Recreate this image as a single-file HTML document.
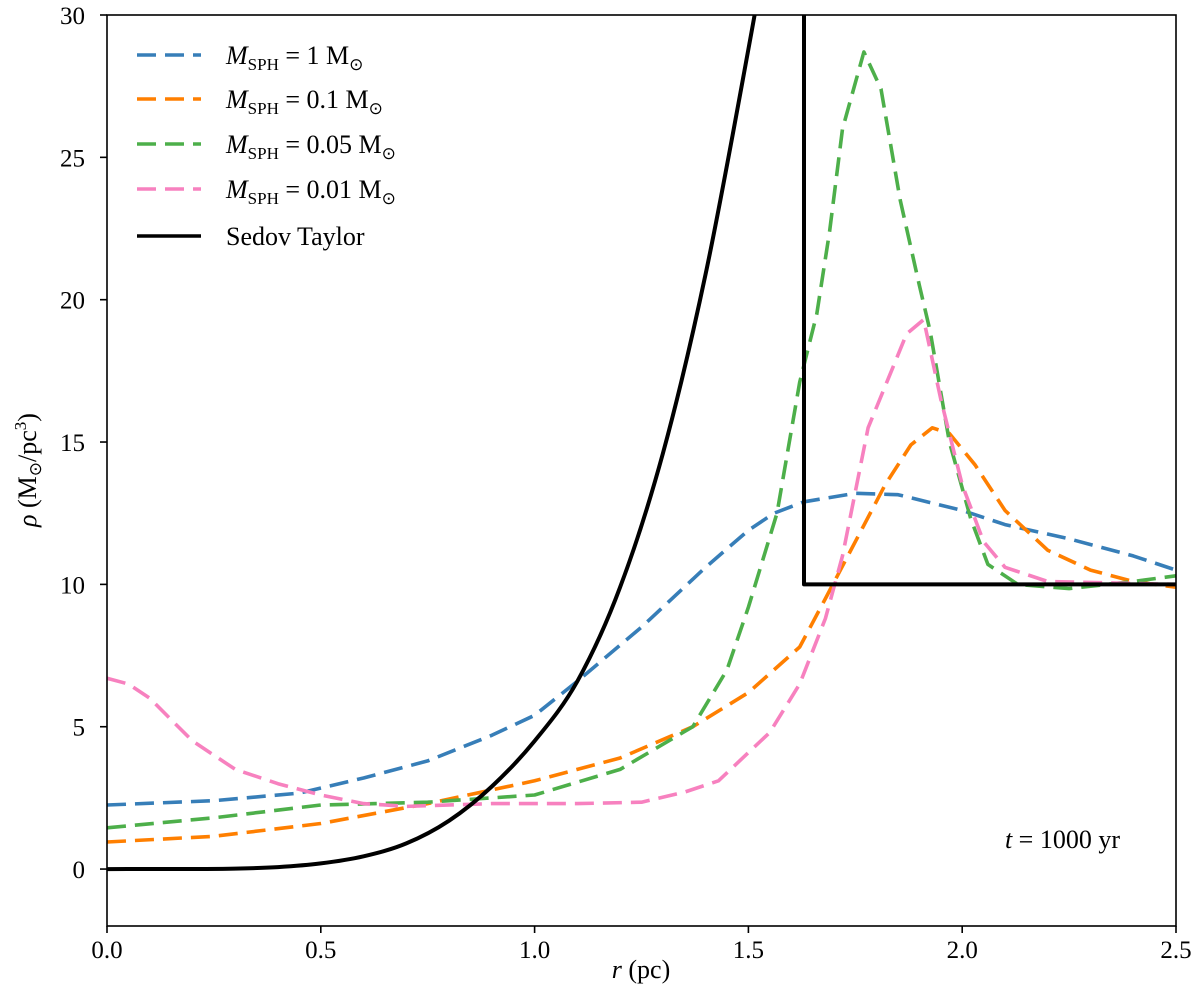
<!DOCTYPE html>
<html><head><meta charset="utf-8"><style>
html,body{margin:0;padding:0;background:#fff;}
svg{display:block;font-family:"Liberation Serif",serif;}
</style></head><body>
<svg id="chart" width="1200" height="997" viewBox="0 0 1200 997">
<defs><clipPath id="clip"><rect x="107" y="15" width="1069" height="911"/></clipPath></defs>
<g id="marks" clip-path="url(#clip)"></g>
<rect x="107" y="15" width="1069" height="911" fill="none" stroke="#000" stroke-width="1.6"/>
<g id="xt"></g>
<g id="yt"></g>
<text x="641" y="978" font-size="26" text-anchor="middle"><tspan font-style="italic">r</tspan> (pc)</text>
<text transform="translate(36,470) rotate(-90)" font-size="26" text-anchor="middle"><tspan font-style="italic">ρ</tspan> (M<tspan font-size="17" dy="5">⊙</tspan><tspan dy="-5">/pc</tspan><tspan font-size="17" dy="-10">3</tspan><tspan dy="10">)</tspan></text>
<text x="1120" y="848" font-size="26" text-anchor="end"><tspan font-style="italic">t</tspan> = 1000 yr</text>
<g id="legend"></g>
</svg>
<script>
const xmin=0,xmax=2.5,ymin=-2,ymax=30;
const X=v=>107+(v-xmin)/(xmax-xmin)*1069;
const Y=v=>926-(v-ymin)/(ymax-ymin)*911;
const xTicks=[0,0.5,1.0,1.5,2.0,2.5];
const xTickLabels=["0.0","0.5","1.0","1.5","2.0","2.5"];
const yTicks=[0,5,10,15,20,25,30];
const yTickLabels=["0","5","10","15","20","25","30"];

const blueR=[0,0.25,0.45,0.6,0.75,0.9,1.0,1.1,1.25,1.4,1.5,1.56,1.63,1.75,1.85,2.0,2.1,2.25,2.4,2.5];
const blueV=[2.25,2.4,2.67,3.2,3.8,4.7,5.4,6.6,8.5,10.6,11.9,12.5,12.9,13.2,13.15,12.6,12.1,11.6,11.0,10.5];
const orangeR=[0,0.25,0.5,0.75,1.0,1.2,1.37,1.5,1.62,1.68,1.75,1.82,1.88,1.93,1.97,2.03,2.1,2.2,2.3,2.4,2.5];
const orangeV=[0.95,1.15,1.6,2.3,3.1,3.9,5.0,6.2,7.8,9.5,11.5,13.5,14.9,15.5,15.3,14.2,12.6,11.2,10.5,10.1,9.9];
const greenR=[0,0.25,0.5,0.75,1.0,1.2,1.37,1.45,1.5,1.567,1.62,1.66,1.69,1.72,1.77,1.81,1.855,1.9,1.925,1.97,2.02,2.06,2.13,2.25,2.4,2.5];
const greenV=[1.45,1.8,2.25,2.35,2.6,3.5,5.0,7.0,9.2,12.5,17.1,19.5,22.4,26.0,28.7,27.4,23.5,20.5,18.9,15.0,12.3,10.7,10.0,9.85,10.1,10.3];
const pinkR=[0,0.05,0.1,0.2,0.3,0.4,0.5,0.6,0.7,0.9,1.1,1.25,1.35,1.43,1.55,1.62,1.68,1.72,1.78,1.87,1.91,1.95,2.0,2.05,2.1,2.2,2.5];
const pinkV=[6.7,6.5,6.0,4.5,3.5,3.0,2.6,2.3,2.2,2.3,2.3,2.35,2.7,3.1,4.8,6.5,8.8,11.0,15.5,18.8,19.3,16.5,13.5,11.5,10.6,10.1,10.0];
const sedovR=[0,0.2,0.3,0.4,0.5,0.6,0.7,0.8,0.9,1.0,1.1,1.2,1.3,1.4,1.5,1.56,1.63];
const sedovV=[0,0.003,0.015,0.07,0.2,0.45,0.9,1.7,2.9,4.5,6.6,9.9,14.6,20.9,28.8,34,41];
const shockR=[1.63,1.63,2.5];
const shockV=[41,10,10];

const NS="http://www.w3.org/2000/svg";
function mk(tag,attrs,parent){const e=document.createElementNS(NS,tag);for(const k in attrs)e.setAttribute(k,attrs[k]);parent.appendChild(e);return e;}
const marks=document.getElementById('marks');
function line(R,V,color,dash,name,w){
  const d=R.map((r,i)=>(i?'L':'M')+X(r).toFixed(1)+' '+Y(V[i]).toFixed(1)).join(' ');
  const p=mk('path',{d:d,fill:'none',stroke:color,'stroke-width':w||3.6,'stroke-dasharray':dash||'none','stroke-linejoin':'round'},marks);
  
  
}
function smooth(R,V,color,name,w){
  const P=R.map((r,i)=>[X(r),Y(V[i])]);
  let d='M'+P[0][0]+' '+P[0][1];
  for(let i=0;i<P.length-1;i++){
    const p0=P[Math.max(0,i-1)],p1=P[i],p2=P[i+1],p3=P[Math.min(P.length-1,i+2)];
    const c1=[p1[0]+(p2[0]-p0[0])/6,p1[1]+(p2[1]-p0[1])/6];
    const c2=[p2[0]-(p3[0]-p1[0])/6,p2[1]-(p3[1]-p1[1])/6];
    d+=' C'+c1.map(v=>v.toFixed(1)).join(' ')+' '+c2.map(v=>v.toFixed(1)).join(' ')+' '+p2[0].toFixed(1)+' '+p2[1].toFixed(1);
  }
  const p=mk('path',{d:d,fill:'none',stroke:color,'stroke-width':w},marks);
  
  
}
line(blueR,blueV,'#377eb8','19,9','series-msph-1');
line(orangeR,orangeV,'#ff7f00','19,9','series-msph-0-1');
line(greenR,greenV,'#4daf4a','19,9','series-msph-0-05');
line(pinkR,pinkV,'#f781bf','19,9','series-msph-0-01');
smooth(sedovR,sedovV,'#000','series-sedov-taylor',4);
line(shockR,shockV,'#000','','sedov-taylor-shock',4);

const xt=document.getElementById('xt');
xTicks.forEach((t,i)=>{
  const l=mk('line',{x1:X(t),x2:X(t),y1:926,y2:933,stroke:'#000','stroke-width':1.6},xt);
  
  
  const tx=mk('text',{x:X(t),y:958,'font-size':25,'text-anchor':'middle'},xt);
  tx.textContent=xTickLabels[i];
  
  
});
const yt=document.getElementById('yt');
yTicks.forEach((t,i)=>{
  const l=mk('line',{x1:100,x2:107,y1:Y(t),y2:Y(t),stroke:'#000','stroke-width':1.6},yt);
  
  
  const tx=mk('text',{x:85,y:Y(t)+9,'font-size':25,'text-anchor':'end'},yt);
  tx.textContent=yTickLabels[i];
  
  
});

const legend=document.getElementById('legend');
const legColors=['#377eb8','#ff7f00','#4daf4a','#f781bf','#000'];
const legVals=['1','0.1','0.05','0.01',null];
const legY=[55,99,144,189,236];
legColors.forEach((c,i)=>{
  const l=mk('line',{x1:137,x2:201,y1:legY[i],y2:legY[i],stroke:c,'stroke-width':3.6,'stroke-dasharray':legVals[i]?'19,9':'none'},legend);
  
  
  const t=mk('text',{x:226,y:legY[i]+9,'font-size':26},legend);
  
  
  if(legVals[i]){
    t.innerHTML='<tspan font-style="italic">M</tspan><tspan font-size="17" dy="6">SPH</tspan><tspan dy="-6"> = '+legVals[i]+' M</tspan><tspan font-size="17" dy="6">⊙</tspan>';
  } else t.textContent='Sedov Taylor';
});
</script>
</body></html>
